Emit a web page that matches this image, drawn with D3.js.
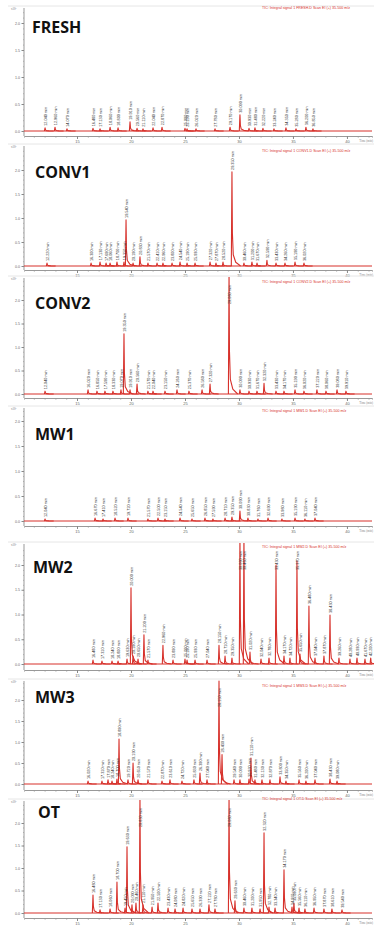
<!DOCTYPE html>
<html>
<head>
<meta charset="utf-8">
<script src="https://cdn.jsdelivr.net/npm/d3@7/dist/d3.min.js"></script>
<style>
  body { margin: 0; background: #fff; }
  svg { display: block; }
  .tick text { fill: #666; }
  .peak { fill: none; stroke: #d7302a; stroke-width: 1.1; stroke-linejoin: round; }
  .plab { font: 3.8px "Liberation Sans", sans-serif; fill: #333; }
  .hdr { font: 3.6px "Liberation Sans", sans-serif; fill: #d7302a; }
  .name { font: 700 16px "Open Sans", sans-serif; fill: #111; }
</style>
</head>
<body>
<script>
// retention times (min) and peak heights (x10^6 counts)
const freshTimes = [12.04, 12.96, 14.07, 16.48, 17.13, 18.06, 18.80, 19.91, 20.56, 21.11, 22.04, 22.87, 25.00, 25.19, 26.02, 27.78, 29.17, 30.09, 30.93, 31.48, 32.22, 33.24, 34.35, 35.28, 36.20, 36.85];
const freshHeights = [0.06, 0.07, 0.04, 0.05, 0.04, 0.07, 0.06, 0.17, 0.05, 0.04, 0.06, 0.07, 0.05, 0.04, 0.04, 0.04, 0.07, 0.30, 0.05, 0.06, 0.05, 0.04, 0.06, 0.04, 0.07, 0.04];

const conv1Times = [12.22, 16.30, 17.13, 17.69, 18.06, 18.70, 19.35, 19.54, 20.19, 20.83, 21.57, 22.41, 22.96, 23.80, 24.54, 25.19, 25.93, 27.32, 27.87, 28.52, 29.35, 30.46, 31.20, 31.67, 32.59, 33.43, 34.26, 35.19, 36.02];
const conv1Heights = [0.06, 0.06, 0.08, 0.06, 0.06, 0.08, 0.08, 0.96, 0.06, 0.19, 0.06, 0.06, 0.06, 0.06, 0.08, 0.06, 0.06, 0.08, 0.06, 0.08, 1.96, 0.06, 0.08, 0.06, 0.12, 0.06, 0.06, 0.08, 0.06];

const conv2Times = [12.04, 16.02, 16.85, 17.59, 18.33, 19.07, 19.35, 19.91, 20.56, 21.57, 22.04, 23.15, 24.26, 25.37, 26.58, 27.32, 29.08, 30.09, 30.93, 31.67, 32.32, 33.43, 34.17, 35.19, 36.02, 37.22, 38.06, 39.08, 39.91];
const conv2Heights = [0.06, 0.09, 0.06, 0.06, 0.06, 0.09, 1.28, 0.09, 0.21, 0.06, 0.06, 0.06, 0.09, 0.06, 0.09, 0.21, 2.60, 0.09, 0.06, 0.06, 0.23, 0.06, 0.06, 0.09, 0.06, 0.09, 0.06, 0.09, 0.06];

const mw1Times = [12.04, 16.67, 17.41, 18.52, 19.72, 21.57, 22.50, 23.15, 24.54, 25.65, 26.85, 27.59, 28.71, 29.35, 30.09, 30.83, 31.76, 32.69, 33.98, 35.19, 36.11, 37.04];
const mw1Heights = [0.04, 0.06, 0.04, 0.06, 0.06, 0.04, 0.06, 0.04, 0.06, 0.04, 0.06, 0.04, 0.06, 0.08, 0.20, 0.06, 0.04, 0.06, 0.04, 0.06, 0.04, 0.06];

const mw2Times = [16.48, 17.31, 18.24, 18.80, 19.63, 20.00, 20.19, 20.65, 21.20, 21.57, 22.96, 23.89, 25.00, 25.19, 25.93, 27.04, 28.15, 28.71, 29.35, 30.09, 30.46, 31.02, 32.04, 32.78, 33.43, 34.17, 34.72, 35.37, 35.65, 36.48, 37.04, 37.87, 38.43, 39.26, 40.28, 40.93, 41.67, 42.20];
const mw2Heights = [0.08, 0.06, 0.06, 0.06, 0.10, 1.54, 0.16, 0.10, 0.59, 0.08, 0.38, 0.08, 0.10, 0.08, 0.08, 0.08, 0.38, 0.16, 0.12, 2.60, 2.60, 0.24, 0.10, 0.12, 2.00, 0.16, 0.12, 2.08, 0.20, 1.17, 0.12, 0.16, 0.99, 0.12, 0.10, 0.12, 0.10, 0.12];

const mw3Times = [16.02, 17.31, 17.87, 18.24, 18.70, 18.89, 19.72, 20.19, 20.65, 21.57, 22.87, 23.61, 24.72, 25.83, 26.39, 27.04, 28.15, 28.43, 29.54, 30.09, 30.93, 31.11, 31.48, 32.13, 32.87, 33.80, 34.35, 35.56, 36.20, 37.04, 38.43, 39.08];
const mw3Heights = [0.07, 0.07, 0.10, 0.07, 0.12, 1.07, 0.10, 0.50, 0.10, 0.10, 0.07, 0.10, 0.07, 0.10, 0.26, 0.10, 2.45, 0.70, 0.10, 0.10, 0.12, 0.62, 0.10, 0.10, 0.10, 0.17, 0.07, 0.10, 0.07, 0.10, 0.12, 0.07];

const otTimes = [16.48, 17.13, 18.06, 18.70, 19.45, 19.63, 20.09, 20.46, 20.83, 21.11, 21.95, 22.50, 23.43, 24.08, 24.82, 25.65, 26.39, 27.22, 27.78, 29.08, 29.63, 30.46, 31.20, 31.95, 32.32, 32.78, 33.34, 34.17, 34.91, 35.09, 35.56, 36.11, 36.95, 37.87, 38.61, 39.54];
const otHeights = [0.40, 0.07, 0.09, 0.69, 0.11, 1.47, 0.18, 0.22, 2.60, 0.18, 0.13, 0.22, 0.11, 0.09, 0.11, 0.09, 0.09, 0.18, 0.09, 2.60, 0.27, 0.11, 0.11, 0.09, 1.78, 0.13, 0.11, 0.96, 0.13, 0.22, 0.11, 0.09, 0.11, 0.09, 0.09, 0.07];

const timeTicks = [15, 20, 25, 30, 35, 40];
const countTicks = [0, 0.5, 1.0, 1.5, 2.0];

// panel layout (pixels)
const panels = [
  {name: 'FRESH', times: freshTimes, heights: freshHeights, top: 10, base: 131, ppu: 54, axisY: 136, nameX: 32, nameY: 33, hdrY: 9},
  {name: 'CONV1', times: conv1Times, heights: conv1Heights, top: 148, base: 266, ppu: 48, axisY: 270, nameX: 35, nameY: 178, hdrY: 152},
  {name: 'CONV2', times: conv2Times, heights: conv2Heights, top: 280, base: 394, ppu: 47, axisY: 398, nameX: 35, nameY: 309, hdrY: 283},
  {name: 'MW1', times: mw1Times, heights: mw1Heights, top: 410, base: 521, ppu: 50, axisY: 526, nameX: 35, nameY: 440, hdrY: 412},
  {name: 'MW2', times: mw2Times, heights: mw2Heights, top: 546, base: 664, ppu: 49.5, axisY: 670, nameX: 33, nameY: 573, hdrY: 548},
  {name: 'MW3', times: mw3Times, heights: mw3Heights, top: 683, base: 784, ppu: 42, axisY: 790, nameX: 35, nameY: 703, hdrY: 687},
  {name: 'OT', times: otTimes, heights: otHeights, top: 803, base: 913, ppu: 45, axisY: 918, nameX: 38, nameY: 818, hdrY: 800}
];

const W = 374, H = 926;
const svg = d3.select('body').append('svg').attr('width', W).attr('height', H);
svg.append('rect').attr('width', W).attr('height', H).attr('fill', '#fff');

const x = d3.scaleLinear().domain([10.09, 42.32]).range([24, 372]);

// a chromatographic peak drawn as a narrow spike with a short tail
const glyph = (t, h) => [[t - 0.06, 0], [t, h], [t + 0.04, h * 0.35], [t + 0.12, h * 0.12], [t + 0.35, h * 0.04], [t + 0.8, 0]];

panels.forEach((p, i) => {
  const y = d3.scaleLinear().domain([0, (p.base - p.top) / p.ppu]).range([p.base, p.top]);
  const g = svg.append('g');

  g.append('clipPath').attr('id', 'clip' + i)
    .append('rect').attr('x', 24).attr('y', p.top - 3).attr('width', W - 24).attr('height', p.axisY - p.top + 3);

  // faint frame line on top of each panel
  g.append('line').attr('x1', 8).attr('x2', W).attr('y1', p.top - 4).attr('y2', p.top - 4)
    .attr('stroke', '#e6e6e6').attr('stroke-width', 1);

  // x axis with minor ticks
  g.append('g').attr('transform', 'translate(0,' + p.axisY + ')')
    .call(d3.axisBottom(x).tickValues(d3.range(11, 43)).tickSize(1.5).tickFormat(''))
    .call(a => a.select('.domain').attr('stroke', '#999'))
    .call(a => a.selectAll('.tick line').attr('stroke', '#999'));
  g.append('g').attr('transform', 'translate(0,' + p.axisY + ')')
    .call(d3.axisBottom(x).tickValues(timeTicks).tickSize(3).tickPadding(1).tickFormat(d3.format('d')))
    .call(a => a.select('.domain').remove())
    .call(a => a.selectAll('.tick line').attr('stroke', '#888'))
    .call(a => a.selectAll('text').attr('font-size', 4).attr('font-family', 'Liberation Sans'));
  g.append('text').attr('x', 373).attr('y', p.axisY + 6).attr('text-anchor', 'end')
    .attr('font-size', 3).attr('fill', '#888').text('Time (min)');

  // y axis
  const yMinor = d3.range(0, y.domain()[1], 0.1);
  g.append('g').attr('transform', 'translate(24,0)')
    .call(d3.axisLeft(y).tickValues(yMinor).tickSize(1).tickFormat(''))
    .call(a => a.select('.domain').attr('stroke', '#999').attr('d', 'M0,' + (p.top - 2) + 'V' + p.axisY))
    .call(a => a.selectAll('.tick line').attr('stroke', '#aaa'));
  g.append('g').attr('transform', 'translate(24,0)')
    .call(d3.axisLeft(y).tickValues(countTicks.filter(v => v <= y.domain()[1])).tickSize(2.5).tickPadding(1.5).tickFormat(d3.format('.1f')))
    .call(a => a.select('.domain').remove())
    .call(a => a.selectAll('.tick line').attr('stroke', '#888'))
    .call(a => a.selectAll('text').attr('font-size', 3.6).attr('font-family', 'Liberation Sans'));
  g.append('text').attr('x', 11).attr('y', p.top).attr('font-size', 3).attr('fill', '#777').text('x10\u2076');

  // trace
  const trace = g.append('g').attr('clip-path', 'url(#clip' + i + ')');
  trace.append('line').attr('x1', x.range()[0]).attr('x2', x.range()[1])
    .attr('y1', y(0)).attr('y2', y(0)).attr('stroke', '#d7302a').attr('stroke-width', 1);

  const peaks = d3.zip(p.times, p.heights);
  const line = d3.line().x(d => x(d[0])).y(d => y(d[1]));
  trace.selectAll('path.peak').data(peaks).join('path')
    .attr('class', 'peak')
    .attr('stroke-width', d => d[1] > 0.5 ? 1.6 : 1)
    .attr('d', d => line(glyph(d[0], d[1])));

  // peak annotations (vertical)
  g.selectAll('text.plab').data(peaks).join('text')
    .attr('class', 'plab')
    .attr('transform', d => {
      const top = y(d[1]);
      const yy = top < p.top + 22 ? p.top + 24 : top - 2;
      return 'translate(' + (x(d[0]) + 1.6) + ',' + yy + ') rotate(-90)';
    })
    .text(d => d[0].toFixed(3) + ' min');

  // header
  g.append('text').attr('class', 'hdr').attr('x', 262).attr('y', p.hdrY)
    .text('TIC: Integral signal 1 ' + p.name + '.D  Scan EI (+) 35-500 m/z');

  g.append('text').attr('class', 'name').attr('x', p.nameX).attr('y', p.nameY).text(p.name);
});
</script>
</body>
</html>
